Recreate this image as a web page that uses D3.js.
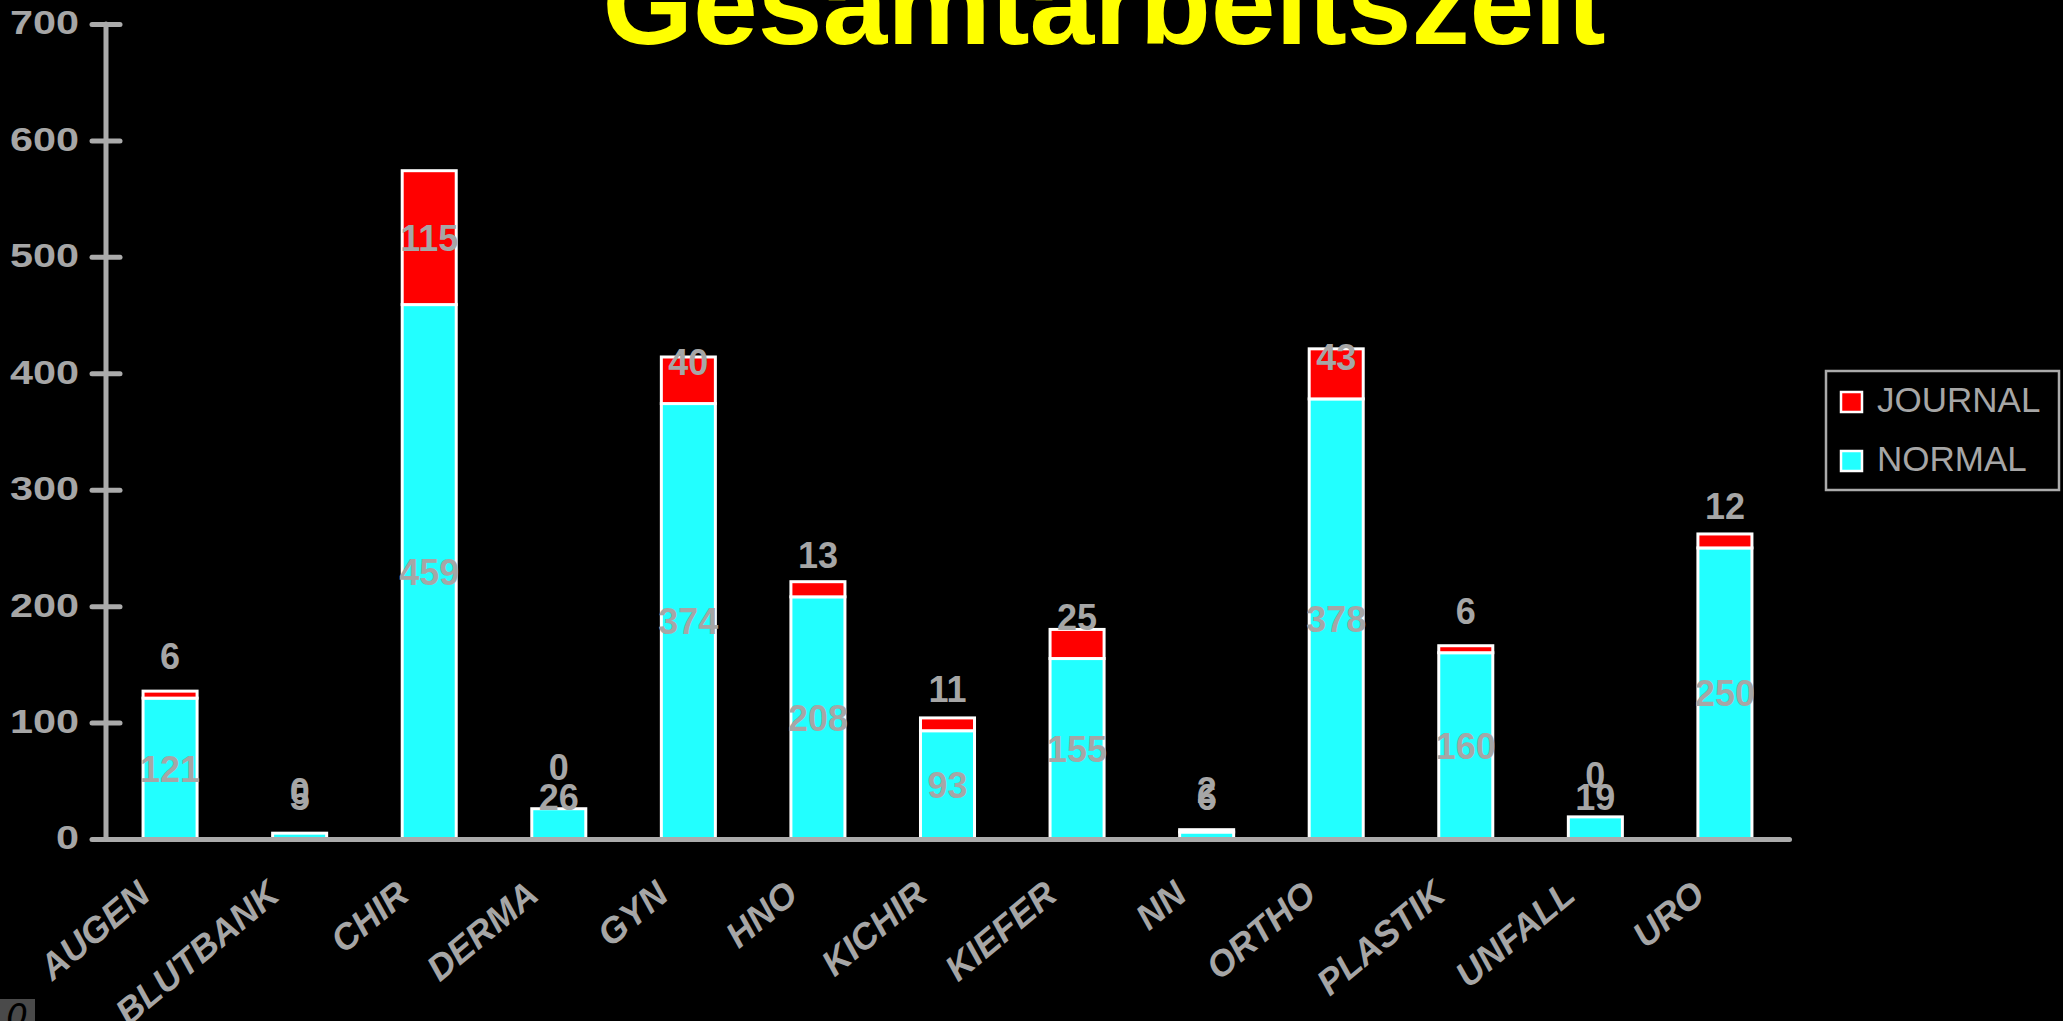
<!DOCTYPE html>
<html>
<head>
<meta charset="utf-8">
<script src="https://cdn.jsdelivr.net/npm/d3@7"></script>
<style>
  html, body { margin: 0; padding: 0; background: #000; }
  svg { display: block; }
</style>
</head>
<body>
<svg id="chart"></svg>
<script>
// data
const categories = ["AUGEN", "BLUTBANK", "CHIR", "DERMA", "GYN", "HNO", "KICHIR", "KIEFER", "NN", "ORTHO", "PLASTIK", "UNFALL", "URO"];
const normal  = [121, 5, 459, 26, 374, 208, 93, 155, 6, 378, 160, 19, 250];
const journal = [6, 0, 115, 0, 40, 13, 11, 25, 2, 43, 6, 0, 12];
const yTicks = [0, 100, 200, 300, 400, 500, 600, 700];
const seriesNames = ["JOURNAL", "NORMAL"];

const svgWidth = 2063, svgHeight = 1021;
const axisColor = "#ababab";
const textColor = "#a6a6a6";
const colors = {normal: "#22ffff", journal: "#ff0000"};

const chart = d3.select("#chart")
    .attr("width", svgWidth)
    .attr("height", svgHeight)
    .style("background", "#000");

const xScale = d3.scaleBand()
    .domain(categories)
    .range([106, 1789])
    .paddingInner(0.583)
    .paddingOuter(0.286);

const yScale = d3.scaleLinear().domain([0, 700]).range([839, 24]);

// title (top is cut by the page edge, as in the original)
chart.append("text")
    .attr("x", 1104)
    .attr("y", 44)
    .attr("text-anchor", "middle")
    .attr("textLength", 1003)
    .attr("lengthAdjust", "spacingAndGlyphs")
    .style("font-family", "'Liberation Sans', Arial, sans-serif")
    .style("font-weight", "bold")
    .style("font-size", "115px")
    .style("fill", "#ffff00")
    .text("Gesamtarbeitszeit");

// stacked data
const table = categories.map((c, i) => ({cat: c, normal: normal[i], journal: journal[i]}));
const stacked = d3.stack().keys(["normal", "journal"])(table);

const bars = chart.append("g");
stacked.forEach(layer => {
    bars.selectAll(".bar-" + layer.key)
        .data(layer)
        .enter()
        .append("rect")
        .attr("x", d => xScale(d.data.cat))
        .attr("width", xScale.bandwidth())
        .attr("y", d => yScale(d[1]))
        .attr("height", d => yScale(d[0]) - yScale(d[1]))
        .style("fill", colors[layer.key])
        .style("stroke", "#ffffff")
        .style("stroke-width", 3);
});

// axes
const yAxis = d3.axisLeft(yScale).tickValues(yTicks).tickSize(14).tickSizeOuter(0);
const gy = chart.append("g").attr("transform", "translate(106,0)").call(yAxis);
gy.select(".domain").remove();
gy.append("line")
    .attr("x1", 0).attr("x2", 0)
    .attr("y1", yScale(700)).attr("y2", yScale(0))
    .style("stroke", axisColor).style("stroke-width", 5).style("stroke-linecap", "round");
gy.selectAll(".tick line")
    .attr("x1", -14).attr("x2", 14)
    .style("stroke", axisColor).style("stroke-width", 5).style("stroke-linecap", "round");
// tick labels are drawn a little wide in the original
const tickLen = d => String(d).length * 23;
gy.selectAll(".tick text")
    .attr("text-anchor", "start")
    .attr("x", d => -27 - tickLen(d))
    .attr("dy", "0.3em")
    .attr("textLength", tickLen)
    .attr("lengthAdjust", "spacingAndGlyphs")
    .style("fill", textColor)
    .style("font-family", "'Liberation Sans', Arial, sans-serif")
    .style("font-weight", "bold")
    .style("font-size", "33px");

const xAxis = d3.axisBottom(xScale).tickValues([]).tickSizeOuter(0);
const gx = chart.append("g").attr("transform", "translate(0," + yScale(0) + ")").call(xAxis);
gx.select(".domain")
    .style("stroke", axisColor).style("stroke-width", 5).style("stroke-linecap", "round");

// category labels, slanted
chart.append("g").selectAll("text")
    .data(categories)
    .enter()
    .append("text")
    .attr("transform", d => "translate(" + (xScale(d) + xScale.bandwidth() / 2 - 18) + ",898) rotate(-40)")
    .attr("text-anchor", "end")
    .style("fill", textColor)
    .style("font-family", "'Liberation Sans', Arial, sans-serif")
    .style("font-weight", "bold")
    .style("font-style", "italic")
    .style("font-size", "36px")
    .text(d => d);

// value labels: centred on the segment, pushed up when the segment is small
function labelY(d) {
    const top = yScale(d[1]), bottom = yScale(d[0]);
    const h = bottom - top;
    const lift = Math.max(0, 42 - 0.51 * h);
    return (top + bottom) / 2 - lift;
}
const labels = chart.append("g");
stacked.forEach(layer => {
    labels.selectAll(".lab-" + layer.key)
        .data(layer)
        .enter()
        .append("text")
        .attr("x", d => xScale(d.data.cat) + xScale.bandwidth() / 2)
        .attr("y", labelY)
        .attr("dy", "0.36em")
        .attr("text-anchor", "middle")
        .style("fill", textColor)
        .style("font-family", "'Liberation Sans', Arial, sans-serif")
        .style("font-weight", "bold")
        .style("font-size", "36px")
        .text(d => d[1] - d[0]);
});

// legend
const legend = chart.append("g");
legend.append("rect")
    .attr("x", 1826).attr("y", 371).attr("width", 233).attr("height", 119)
    .style("fill", "#000").style("stroke", axisColor).style("stroke-width", 2.5);
const legendColors = [colors.journal, colors.normal];
seriesNames.forEach((name, i) => {
    legend.append("rect")
        .attr("x", 1841).attr("y", 392 + i * 59).attr("width", 21).attr("height", 20)
        .style("fill", legendColors[i]).style("stroke", "#ffffff").style("stroke-width", 2.5);
    legend.append("text")
        .attr("x", 1877).attr("y", 412 + i * 59)
        .style("fill", textColor)
        .style("font-family", "'Liberation Sans', Arial, sans-serif")
        .style("font-size", "35px")
        .text(name);
});

// small grey box in the corner
chart.append("rect")
    .attr("x", 0).attr("y", 999).attr("width", 35).attr("height", 22)
    .style("fill", "#4a4a4a");
chart.append("text")
    .attr("x", 17).attr("y", 1028)
    .attr("text-anchor", "middle")
    .style("fill", "#000")
    .style("font-family", "'DejaVu Sans', sans-serif")
    .style("font-style", "italic")
    .style("font-size", "34px")
    .text("0");
</script>
</body>
</html>
